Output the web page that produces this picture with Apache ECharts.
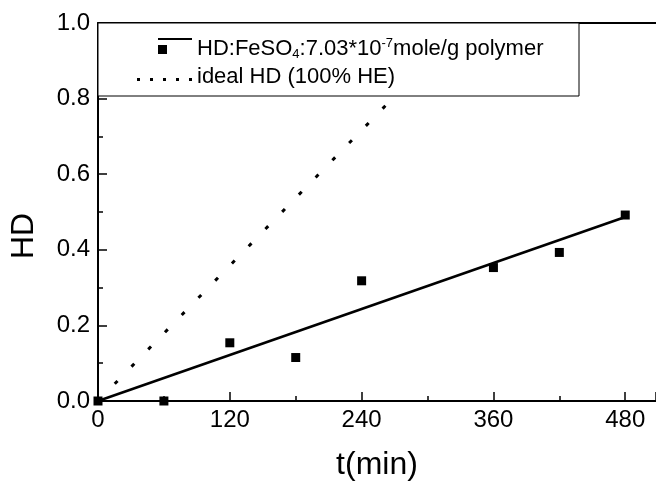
<!DOCTYPE html>
<html>
<head>
<meta charset="utf-8">
<script src="https://cdn.jsdelivr.net/npm/echarts@6/dist/echarts.min.js"></script>
<style>
  html, body { margin: 0; padding: 0; background: #fff; }
  #main { width: 656px; height: 482px; }
</style>
</head>
<body>
<div id="main"></div>
<script>
// measured HD values vs time
var times = [0, 60, 120, 180, 240, 360, 420, 480];
var hdValues = [0, 0, 0.154, 0.115, 0.318, 0.353, 0.393, 0.492];
// linear fit through the measured points
var fitLine = [[0, 0], [480, 0.487]];
// ideal HD (100% HE)
var idealLine = [[0, 0], [335, 1.0]];

var xTicks = [0, 120, 240, 360, 480];
var yTicks = [0, 0.2, 0.4, 0.6, 0.8, 1.0];

var measuredName = 'HD:FeSO4:7.03*10-7mole/g polymer';
var idealName = 'ideal HD (100% HE)';

var font = 'Liberation Sans, Arial, sans-serif';

var chartDom = document.getElementById('main');
var myChart = echarts.init(chartDom);

var scatterData = times.map(function (t, i) { return [t, hdValues[i]]; });

var option = {
  backgroundColor: '#fff',
  animation: false,
  textStyle: { fontFamily: font, color: '#000' },
  grid: { left: 98, right: 0, top: 23, bottom: 81, containLabel: false, outerBoundsMode: 'none' },
  xAxis: [
    {
      type: 'value',
      min: 0,
      max: 508,
      interval: 120,
      name: 't(min)',
      nameLocation: 'middle',
      nameGap: 48,
      nameTextStyle: { fontSize: 32, color: '#000', fontFamily: font },
      axisLine: { onZero: false, lineStyle: { color: '#000', width: 2 } },
      axisTick: { inside: true, length: 9, lineStyle: { color: '#000', width: 1.5 } },
      minorTick: { show: true, splitNumber: 2, length: 5, lineStyle: { color: '#000', width: 1.5 } },
      axisLabel: {
        fontSize: 24, color: '#000', fontFamily: font, margin: 7,
        showMaxLabel: false,
        formatter: function (v) { return xTicks.indexOf(v) > -1 ? String(v) : ''; }
      },
      splitLine: { show: false }
    },
    {
      type: 'value',
      position: 'top',
      min: 0,
      max: 508,
      axisLine: { show: true, onZero: false, lineStyle: { color: '#000', width: 2 } },
      axisTick: { show: false },
      axisLabel: { show: false },
      splitLine: { show: false }
    }
  ],
  yAxis: {
    type: 'value',
    min: 0,
    max: 1,
    interval: 0.2,
    name: 'HD',
    nameLocation: 'middle',
    nameRotate: 90,
    nameGap: 58,
    nameTextStyle: { fontSize: 32, color: '#000', fontFamily: font, padding: [0, 48, 0, 0] },
    axisLine: { show: true, onZero: false, lineStyle: { color: '#000', width: 2 } },
    axisTick: { inside: true, length: 9, lineStyle: { color: '#000', width: 1.5 } },
    minorTick: { show: true, splitNumber: 2, length: 5, lineStyle: { color: '#000', width: 1.5 } },
    axisLabel: {
      fontSize: 24, color: '#000', fontFamily: font, margin: 8,
      formatter: function (v) { return v.toFixed(1); }
    },
    splitLine: { show: false }
  },
  graphic: [
    {
      type: 'rect',
      z: 3,
      shape: { x: 98, y: 23, width: 481, height: 73 },
      style: { fill: '#fff', stroke: '#000', lineWidth: 1 }
    }
  ],
  legend: {
    z: 5,
    orient: 'vertical',
    left: 137,
    top: 37,
    padding: 0,
    itemGap: 4,
    itemWidth: 55,
    itemHeight: 22,
    symbolKeepAspect: false,
    itemStyle: { borderWidth: 0 },
    data: [
      {
        name: measuredName,
        icon: 'path://M0,0L0.01,0L0,0.01ZM21,0L55,0L55,2L21,2ZM21,7L30,7L30,16L21,16ZM0,22L0.01,22L0,21.99Z'
      },
      {
        name: idealName,
        icon: 'path://M0,0L0.01,0L0,0.01ZM0,12L3,12L3,15L0,15ZM13,12L16,12L16,15L13,15ZM26,12L29,12L29,15L26,15ZM39,12L42,12L42,15L39,15ZM52,12L55,12L55,15L52,15ZM55,22L54.99,22L55,21.99Z'
      }
    ],
    formatter: function (name) {
      if (name === measuredName) {
        return '{t|HD:FeSO}{sub|4}{t|:7.03*10}{sup|-7}{t|mole/g polymer}';
      }
      return '{t|' + name + '}';
    },
    textStyle: {
      fontFamily: font,
      color: '#000',
      fontSize: 22,
      lineHeight: 24,
      rich: {
        t: { fontSize: 22, lineHeight: 24, fontFamily: font, color: '#000' },
        sub: { fontSize: 13, lineHeight: 2, verticalAlign: 'bottom', fontFamily: font, color: '#000' },
        sup: { fontSize: 13, lineHeight: 8, verticalAlign: 'top', fontFamily: font, color: '#000' }
      }
    }
  },
  series: [
    {
      name: idealName,
      type: 'line',
      z: 2,
      showSymbol: false,
      symbol: 'none',
      data: idealLine,
      color: '#000',
      lineStyle: { color: '#000', width: 3, type: [4, 20], cap: 'butt' }
    },
    {
      name: measuredName,
      type: 'line',
      z: 2,
      showSymbol: false,
      symbol: 'none',
      data: fitLine,
      color: '#000',
      lineStyle: { color: '#000', width: 2.6 }
    },
    {
      name: measuredName,
      type: 'scatter',
      z: 4,
      symbol: 'rect',
      symbolSize: 9,
      data: scatterData,
      color: '#000',
      itemStyle: { color: '#000', opacity: 1 }
    }
  ]
};

option && myChart.setOption(option);
</script>
</body>
</html>
